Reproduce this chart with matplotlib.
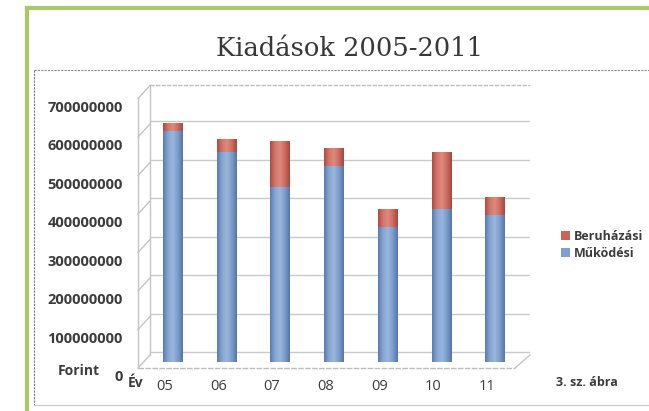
import numpy as np
import matplotlib
matplotlib.use("Agg")
import matplotlib.pyplot as plt
from matplotlib.lines import Line2D
from matplotlib.patches import Patch
from matplotlib.transforms import ScaledTranslation
from matplotlib.colors import LinearSegmentedColormap

# ---- data ----
years = ['05', '06', '07', '08', '09', '10', '11']
mukodesi = [601e6, 546e6, 454e6, 509e6, 351e6, 397e6, 382e6]
beruhazasi = [19e6, 32e6, 120e6, 48e6, 46e6, 149e6, 47e6]
yticks = [0, 100000000, 200000000, 300000000, 400000000, 500000000, 600000000, 700000000]
ytick_labels = ['0', '100000000', '200000000', '300000000', '400000000', '500000000', '600000000', '700000000']
title = 'Kiadások 2005-2011'

W, H = 649, 411
fig = plt.figure(figsize=(W / 100, H / 100), dpi=100)
fig.patch.set_facecolor('white')

def fx(px):
    return px / W

def fy(py):
    return 1 - py / H

# axes: 0 at y=362px, 700M at 92.5px ; x from 150 to 530px
ax = fig.add_axes([fx(150), fy(362), fx(530) - fx(150), (362 - 92.5) / H])
ax.set_facecolor('none')
for s in ax.spines.values():
    s.set_visible(False)

x = np.arange(len(years))
bw = 0.37
blue_cmap = LinearSegmentedColormap.from_list('b', ['#5b7bb0', '#86a6d2', '#9ab6dc', '#7c9ccb', '#5675a8'])
red_cmap = LinearSegmentedColormap.from_list('r', ['#b04a42', '#d4766a', '#de8a7d', '#cc6c60', '#a9463e'])

bars_b = ax.bar(x, mukodesi, width=bw, color='#7f9fcc', zorder=3)
bars_r = ax.bar(x, beruhazasi, width=bw, bottom=mukodesi, color='#cc6c60', zorder=3)

grad = np.linspace(0, 1, 64).reshape(1, -1)
for bars, cmap in ((bars_b, blue_cmap), (bars_r, red_cmap)):
    for p in bars:
        x0, y0 = p.get_x(), p.get_y()
        im = ax.imshow(grad, cmap=cmap, aspect='auto', zorder=4,
                       extent=[x0, x0 + p.get_width(), y0, y0 + p.get_height()])
        im.set_clip_path(p)

ax.set_xlim(-0.43, 6.65)
ax.set_ylim(0, 700e6)

# grid lines (back wall) shifted up
ax.set_yticks(yticks)
ax.set_yticklabels(ytick_labels)
ax.yaxis.grid(True, color='#c9c9c9', linewidth=1.0, zorder=0)
up = ScaledTranslation(0, 7 / 72, fig.dpi_scale_trans)
for gl in ax.yaxis.get_gridlines():
    gl.set_transform(gl.get_transform() + up)

ax.tick_params(axis='y', length=0, pad=19.5, labelsize=10.5, labelcolor='#3c3c3c')
down = ScaledTranslation(0, -10 / 72, fig.dpi_scale_trans)
for lab in ax.get_yticklabels():
    lab.set_fontfamily('Open Sans')
    lab.set_fontweight('bold')
    lab.set_transform(lab.get_transform() + down)

ax.set_xticks(x)
ax.set_xticklabels(years)
ax.tick_params(axis='x', length=0, pad=12, labelsize=10.5, labelcolor='#3c3c3c')
left = ScaledTranslation(-6 / 72, 0, fig.dpi_scale_trans)
for lab in ax.get_xticklabels():
    lab.set_fontfamily('Open Sans')
    lab.set_transform(lab.get_transform() + left)

# ---- 3D-like decoration (walls, floor) in pixel coords ----
def pline(xs, ys, **kw):
    fig.add_artist(Line2D([fx(v) for v in xs], [fy(v) for v in ys],
                          transform=fig.transFigure, **kw))

deco = dict(color='#c4c4c4', linewidth=1.0)
# back wall left edge + top
pline([150, 150], [85, 355], **deco)
pline([150, 530], [85, 85], color='#bdbdbd', linewidth=1.0, linestyle=(0, (3, 1)))
# front axis
pline([138, 138], [98, 368], **deco)
for k in range(8):
    yb = 355 - k * 38.5
    yf = 368 - k * 38.5
    pline([138, 150], [yf, yb], **deco)
# floor
pline([138, 515], [368, 368], color='#bdbdbd', linewidth=1.0, linestyle=(0, (4, 1)))
pline([515, 530], [368, 355], **deco)

# chart frame
pline([27, 27], [8, 411], color='#a8c86a', linewidth=3)
pline([27, 649], [8, 8], color='#a8c86a', linewidth=3)
pline([34, 34], [70, 405], color='#7a7a7a', linewidth=0.8, linestyle=(0, (2, 1)))
pline([34, 649], [70, 70], color='#8a8a8a', linewidth=0.8, linestyle=(0, (2, 1)))
pline([34, 649], [405, 405], color='#c8c8c8', linewidth=0.8)

# title
fig.text(fx(350), fy(48), title, ha='center', va='center', fontsize=18.5,
         family='DejaVu Serif', color='#383838')

# extra labels
tkw = dict(family='Open Sans', fontweight='bold', color='#3c3c3c', fontsize=10)
fig.text(fx(100), fy(371), 'Forint', ha='right', va='center', **tkw)
fig.text(fx(143), fy(383), 'Év', ha='right', va='center', **tkw)
fig.text(fx(587), fy(382), '3. sz. ábra', ha='center', va='center',
         family='Open Sans', fontweight='bold', color='#3c3c3c', fontsize=9)

# legend
handles = [Patch(facecolor='#c9645a', edgecolor='none', label='Beruházási'),
           Patch(facecolor='#7f9fcc', edgecolor='none', label='Működési')]
leg = fig.legend(handles=handles, loc='center left', bbox_to_anchor=(fx(550), fy(245)),
                 frameon=False, handlelength=0.7, handleheight=0.7, handletextpad=0.3,
                 labelspacing=0.35, prop={'family': 'Open Sans', 'weight': 'bold', 'size': 9})
for t in leg.get_texts():
    t.set_color('#3c3c3c')

fig.savefig('out.png', dpi=100)
